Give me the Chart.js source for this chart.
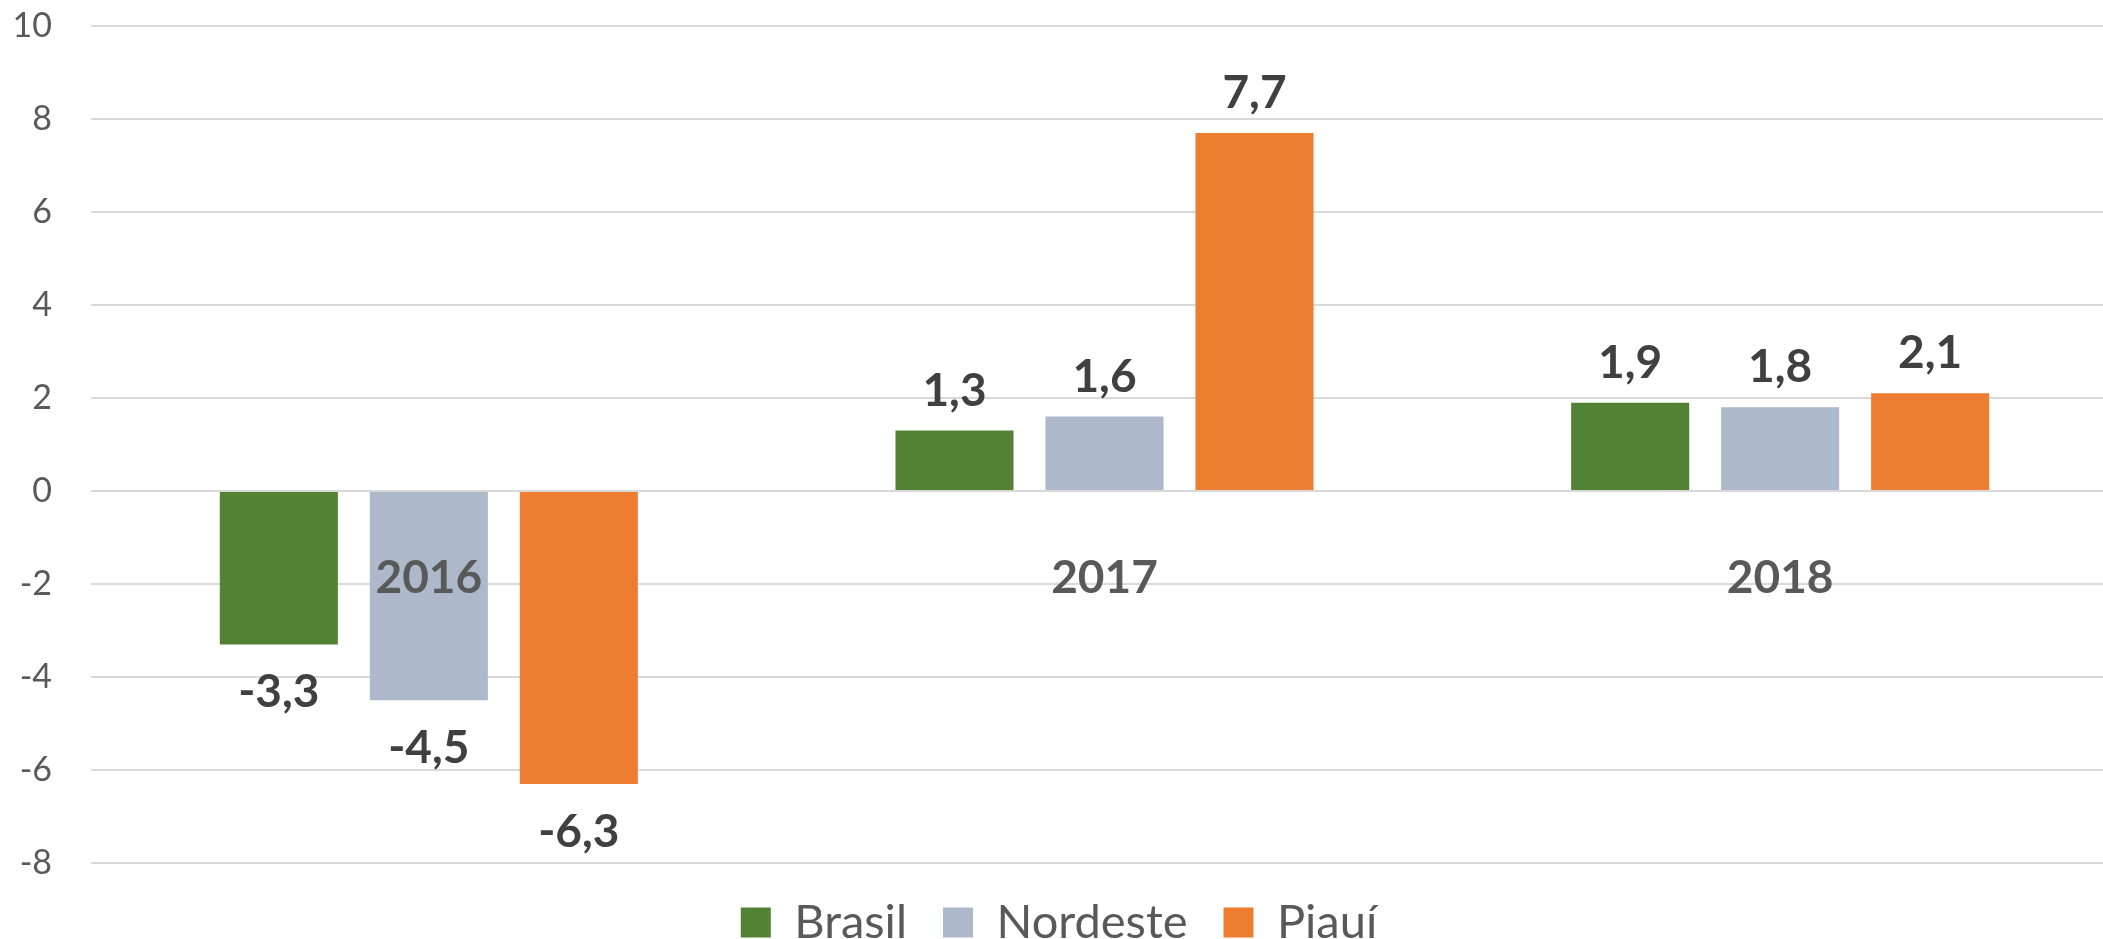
<!DOCTYPE html>
<html>
<head>
<meta charset="utf-8">
<script src="https://cdn.jsdelivr.net/npm/chart.js@4.4.1/dist/chart.umd.min.js"></script>
<style>
  html, body { margin: 0; padding: 0; background: #fff; overflow: hidden; }
  #wrap { width: 2103px; height: 939px; overflow: hidden; position: relative; }
  #chart { position: absolute; left: 0; top: 0; }
</style>
</head>
<body>
<div id="wrap"><canvas id="chart" width="2118" height="956"></canvas></div>
<script>
// data
const years = ['2016', '2017', '2018'];
const brasil = [-3.3, 1.3, 1.9];
const nordeste = [-4.5, 1.6, 1.8];
const piaui = [-6.3, 7.7, 2.1];
const yMin = -8;
const yMax = 10;
const yStep = 2;

const fmt = v => v.toFixed(1).replace('.', ',');

// value labels above / below each bar
const valueLabels = {
  id: 'valueLabels',
  afterDatasetsDraw(chart) {
    const ctx = chart.ctx;
    ctx.save();
    ctx.font = 'bold 46px Lato';
    ctx.fillStyle = '#404040';
    ctx.textAlign = 'center';
    ctx.textBaseline = 'alphabetic';
    const capH = ctx.measureText('0').actualBoundingBoxAscent;
    chart.data.datasets.forEach((ds, i) => {
      chart.getDatasetMeta(i).data.forEach((bar, j) => {
        const v = ds.data[j];
        const y = v >= 0 ? bar.y - 25 : bar.y + 30 + capH;
        ctx.fillText(fmt(v), bar.x, y);
      });
    });
    ctx.restore();
  }
};

const ctx = document.getElementById('chart').getContext('2d');
const chart = new Chart(ctx, {
  type: 'bar',
  data: {
    labels: years,
    datasets: [
      { label: 'Brasil', data: brasil, backgroundColor: '#548235' },
      { label: 'Nordeste', data: nordeste, backgroundColor: '#ADB9CA' },
      { label: 'Piauí', data: piaui, backgroundColor: '#ED7D31' }
    ]
  },
  options: {
    responsive: false,
    animation: false,
    categoryPercentage: 0.666,
    barPercentage: 0.787,
    layout: { padding: { top: 26, right: 0, left: 0, bottom: 0 } },
    plugins: {
      legend: {
        position: 'bottom',
        labels: {
          boxWidth: 30,
          boxHeight: 30,
          padding: 36,
          color: '#595959',
          font: { family: 'Lato', size: 47 }
        }
      },
      tooltip: { enabled: false }
    },
    scales: {
      x: {
        position: { y: 0 },
        grid: { display: false },
        border: { display: false },
        ticks: {
          z: 1,
          color: '#595959',
          padding: 52,
          font: { family: 'Lato', size: 46, weight: 'bold' }
        }
      },
      y: {
        min: yMin,
        max: yMax,
        border: { display: false },
        grid: {
          color: '#D9D9D9',
          lineWidth: 2,
          drawTicks: true,
          tickLength: 36,
          tickColor: 'rgba(0,0,0,0)'
        },
        ticks: {
          stepSize: yStep,
          padding: 3,
          color: '#595959',
          font: { family: 'Lato', size: 34 }
        },
        afterFit(scale) { scale.width = 91; }
      }
    }
  },
  plugins: [valueLabels]
});
</script>
</body>
</html>
